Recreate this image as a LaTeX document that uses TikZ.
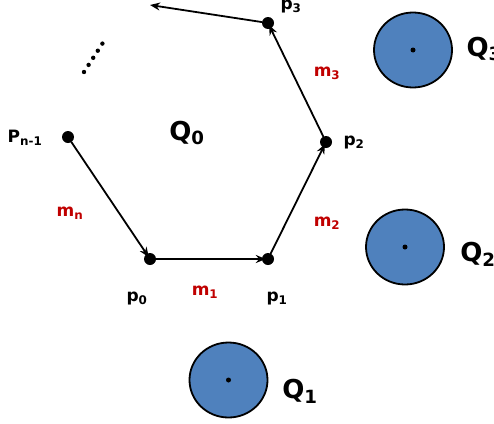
\documentclass[tikz,border=0pt]{standalone}
\usepackage{fontspec}
\setmainfont{DejaVu Sans}
\usetikzlibrary{arrows.meta,shapes.geometric}

\definecolor{obstblue}{RGB}{79,129,189}
\definecolor{edgered}{RGB}{192,0,0}

\begin{document}
\begin{tikzpicture}[>={Stealth[length=10pt,width=8pt]},x=1pt,y=-1pt,line cap=round,
  vtx/.style={circle,fill=black,inner sep=0pt,minimum size=12pt},
  obst/.style={ellipse,draw=black,line width=1.8pt,fill=obstblue,
    minimum width=78pt,minimum height=75pt,inner sep=0pt},
  ctr/.style={circle,fill=black,inner sep=0pt,minimum size=5pt},
  plbl/.style={font=\bfseries\fontsize{17}{17}\selectfont},
  mlbl/.style={font=\bfseries\fontsize{17}{17}\selectfont,text=edgered},
  qlbl/.style={font=\bfseries\fontsize{26}{26}\selectfont},
  edge/.style={->,line width=1.8pt,shorten >=-4pt}]

  \useasboundingbox (0,0) rectangle (494,423);

  % ===== 多边形顶点 =====
  \node[vtx] (pn1) at (68,137) {};
  \node[vtx] (p0) at (150,259) {};
  \node[vtx] (p1) at (268,259) {};
  \node[vtx] (p2) at (326,142) {};
  \node[vtx] (p3) at (268,23) {};
  \coordinate (tip) at (150,5);

  % ---- 有向边 ----
  \draw[edge] (pn1) -- (p0);
  \draw[edge] (p0) -- (p1);
  \draw[edge] (p1) -- (p2);
  \draw[edge] (p2) -- (p3);
  \draw[->,line width=1.8pt] (p3) -- (tip);

  % ---- 省略号 ----
  \foreach \i in {0,...,4}
    \fill ({84+\i*4.6},{72-\i*7.1}) circle (2.2pt);

  % ---- 顶点标注 ----
  \node[plbl] (lp0) at (137,299) {p\textsubscript{0}};
  \node[plbl] (lp1) at (277,299) {p\textsubscript{1}};
  \node[plbl] (lp2) at (354,143) {p\textsubscript{2}};
  \node[plbl] (lp3) at (291,7) {p\textsubscript{3}};
  \node[plbl] (lpn1) at (25,138) {P\textsubscript{n-1}};

  % ---- 边标注 ----
  \node[mlbl] (lm1) at (205,292) {m\textsubscript{1}};
  \node[mlbl] (lm2) at (327,223) {m\textsubscript{2}};
  \node[mlbl] (lm3) at (327,73) {m\textsubscript{3}};
  \node[mlbl] (lmn) at (70,213) {m\textsubscript{n}};

  % ===== 障碍物 Q1..Q3 =====
  \node[obst] (q1) at (228.5,380) {};
  \node[obst] (q2) at (405,247) {};
  \node[obst] (q3) at (413,50) {};
  \foreach \q in {q1,q2,q3}
    \node[ctr] at (\q) {};

  \node[qlbl] (lq0) at (187,133) {Q\textsubscript{0}};
  \node[qlbl] (lq1) at (300,391) {Q\textsubscript{1}};
  \node[qlbl] (lq2) at (478,254) {Q\textsubscript{2}};
  \node[qlbl,anchor=west] (lq3) at (463,49) {Q\textsubscript{3}};

\end{tikzpicture}
\end{document}
